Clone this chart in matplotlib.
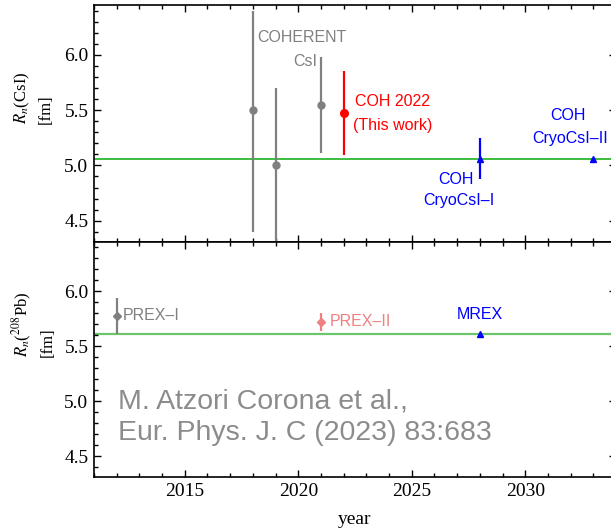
#!/usr/bin/env python3

import matplotlib
matplotlib.use("Agg")
import matplotlib.pyplot as plt
from matplotlib.ticker import MultipleLocator

# neutron skin data: CsI (top) and 208Pb (bottom)
coh_years = [2018, 2019, 2021]
coh_rn = [5.50, 5.00, 5.55]
coh_err_lo = [1.10, 0.75, 0.44]
coh_err_hi = [0.90, 0.70, 0.43]

this_years = [2022]
this_rn = [5.47]
this_err = [0.38]

cryo_years = [2028, 2033]
cryo_rn = [5.06, 5.06]
cryo_err = [0.185, 0.0]

csi_ref = 5.06

prex1_years = [2012]
prex1_rn = [5.77]
prex1_err_lo = [0.16]
prex1_err_hi = [0.17]

prex2_years = [2021]
prex2_rn = [5.72]
prex2_err = [0.085]

mrex_years = [2028]
mrex_rn = [5.61]

pb_ref = 5.61

year_ticks = [2015, 2020, 2025, 2030]

plt.rcParams['font.family'] = 'serif'
plt.rcParams['font.serif'] = ['Liberation Serif', 'DejaVu Serif']
plt.rcParams['mathtext.fontset'] = 'stix'

SANS = 'Liberation Sans'
GRAY = '#808080'
RED = '#ff0000'
BLUE = '#0000ff'
PINK = '#f08080'

fig = plt.figure(figsize=(6.11, 5.32), dpi=100)
ax_top = fig.add_axes([94 / 611, 1 - 241.7 / 532, 522 / 611, 236.7 / 532])
ax_bot = fig.add_axes([94 / 611, 1 - 477 / 532, 522 / 611, 235.3 / 532], sharex=ax_top)

for ax in (ax_top, ax_bot):
    ax.set_xlim(2011, 2034)
    ax.set_ylim(4.31, 6.45)
    ax.xaxis.set_major_locator(MultipleLocator(5))
    ax.xaxis.set_minor_locator(MultipleLocator(1))
    ax.yaxis.set_major_locator(MultipleLocator(0.5))
    ax.yaxis.set_minor_locator(MultipleLocator(0.1))
    ax.tick_params(which='both', direction='in', top=True, right=True,
                   labelsize=14, width=1.0, pad=4)
    ax.tick_params(which='major', length=5)
    ax.tick_params(which='minor', length=3)
    ax.yaxis.set_major_formatter(plt.FormatStrFormatter('%.1f'))
    for sp in ax.spines.values():
        sp.set_linewidth(1.2)

ax_top.tick_params(labelbottom=False)

# ---- top panel: CsI ----
ax_top.axhline(csi_ref, color='#1fb01f', lw=1.2, zorder=1)
ax_top.errorbar(coh_years, coh_rn, yerr=[coh_err_lo, coh_err_hi], fmt='o',
                color=GRAY, ms=5, elinewidth=1.6, capsize=0, zorder=3)
ax_top.errorbar(this_years, this_rn, yerr=this_err, fmt='o',
                color=RED, ms=5.5, elinewidth=1.6, capsize=0, zorder=3)
ax_top.errorbar(cryo_years, cryo_rn, yerr=cryo_err, fmt='^',
                color=BLUE, ms=5, elinewidth=1.6, capsize=0, zorder=3)

ax_top.text(2018.18, 6.155, 'COHERENT', color=GRAY, family=SANS, fontsize=11.5,
            ha='left', va='center')
ax_top.text(2020.82, 5.943, 'CsI', color=GRAY, family=SANS, fontsize=11.5,
            ha='right', va='center')
ax_top.text(2022.5, 5.578, 'COH 2022', color=RED, family=SANS, fontsize=11.5,
            ha='left', va='center')
ax_top.text(2022.41, 5.365, '(This work)', color=RED, family=SANS, fontsize=11.5,
            ha='left', va='center')
ax_top.text(2026.95, 4.87, 'COH', color=BLUE, family=SANS, fontsize=11.5,
            ha='center', va='center')
ax_top.text(2027.08, 4.68, 'CryoCsI–I', color=BLUE, family=SANS, fontsize=11.5,
            ha='center', va='center')
ax_top.text(2031.9, 5.447, 'COH', color=BLUE, family=SANS, fontsize=11.5,
            ha='center', va='center')
ax_top.text(2031.97, 5.244, 'CryoCsI–II', color=BLUE, family=SANS, fontsize=11.5,
            ha='center', va='center')

# ---- bottom panel: 208Pb ----
ax_bot.axhline(pb_ref, color='#6cc46c', lw=1.6, zorder=1)
ax_bot.errorbar(prex1_years, prex1_rn, yerr=[prex1_err_lo, prex1_err_hi], fmt='D',
                color=GRAY, ms=4, elinewidth=1.6, capsize=0, zorder=3)
ax_bot.errorbar(prex2_years, prex2_rn, yerr=prex2_err, fmt='D',
                color=PINK, ms=4, elinewidth=1.6, capsize=0, zorder=3)
ax_bot.plot(mrex_years, mrex_rn, '^', color=BLUE, ms=5, zorder=3)

ax_bot.text(2012.28, 5.78, 'PREX–I', color=GRAY, family=SANS, fontsize=11.5,
            ha='left', va='center')
ax_bot.text(2021.4, 5.725, 'PREX–II', color=PINK, family=SANS, fontsize=11.5,
            ha='left', va='center')
ax_bot.text(2028.0, 5.784, 'MREX', color=BLUE, family=SANS, fontsize=11.5,
            ha='center', va='center')

ax_bot.text(2012.06, 4.936, 'M. Atzori Corona et al.,', color='#8c8c8c',
            family=SANS, fontsize=20.5, ha='left', va='baseline')
ax_bot.text(2012.06, 4.65, 'Eur. Phys. J. C (2023) 83:683', color='#8c8c8c',
            family=SANS, fontsize=20.5, ha='left', va='baseline')

ax_bot.set_xticks(year_ticks)
ax_bot.set_xlabel('year', fontsize=14, labelpad=8)

# rotated two-line y labels
fig.text(0.054, 1 - 124 / 532, '$R_n$(CsI)\n[fm]', rotation=90, fontsize=12,
         ha='center', va='bottom', multialignment='left', linespacing=1.5)
fig.text(0.054, 1 - 357 / 532, '$R_n$($^{208}$Pb)\n[fm]', rotation=90, fontsize=12,
         ha='center', va='bottom', multialignment='left', linespacing=1.5)

fig.savefig('out.png', dpi=100)
